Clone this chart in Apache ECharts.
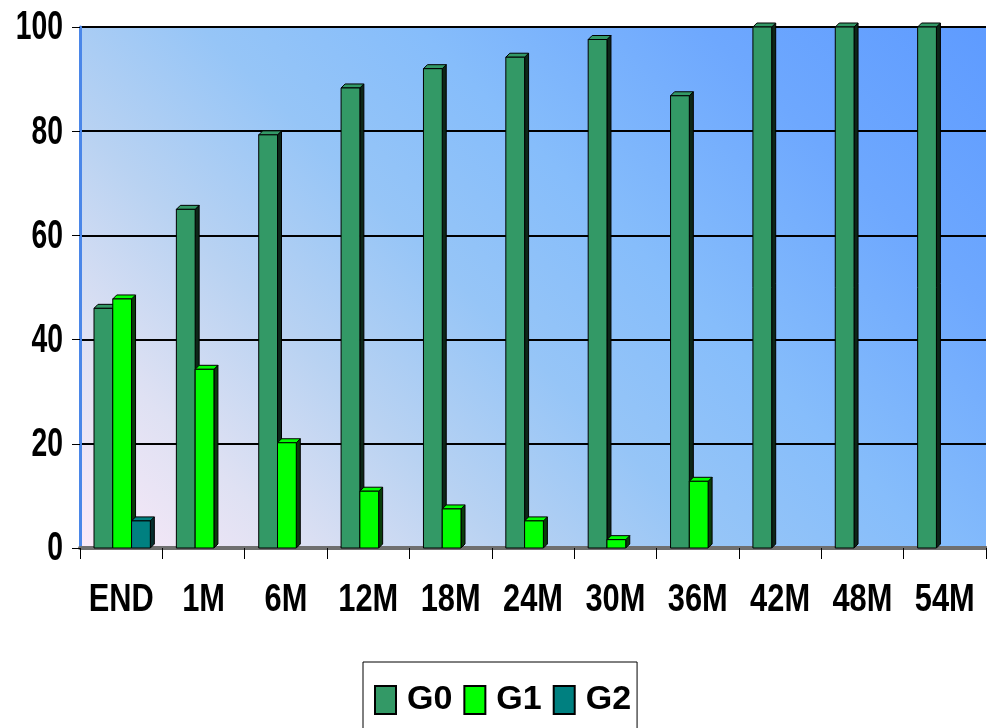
<!DOCTYPE html>
<html>
<head>
<meta charset="utf-8">
<script src="https://cdn.jsdelivr.net/npm/echarts@6/dist/echarts.min.js"></script>
<style>
  html, body { margin: 0; padding: 0; background: #ffffff; }
  #chart { width: 987px; height: 728px; }
</style>
</head>
<body>
<div id="chart"></div>
<script>
// Categories (time points) and group percentages
const categories = ['END', '1M', '6M', '12M', '18M', '24M', '30M', '36M', '42M', '48M', '54M'];
const g0Values = [46, 65, 79.3, 88.3, 92, 94.2, 97.6, 86.8, 100, 100, 100];
const g1Values = [47.8, 34.3, 20.2, 10.9, 7.5, 5.2, 1.6, 12.8, 0, 0, 0];
const g2Values = [5.2, 0, 0, 0, 0, 0, 0, 0, 0, 0, 0];
const yTicks = [0, 20, 40, 60, 80, 100];

const seriesNames = ['G0', 'G1', 'G2'];
const seriesColors = ['#339966', '#00ff00', '#008080'];
const sideColors = ['#0d2618', '#0a3d0a', '#062d2d'];
const valueSets = [g0Values, g1Values, g2Values];

const FONT = "'Liberation Sans', Arial, sans-serif";

// Draws one bar with a shallow extruded top and right side
function makeBarRenderer(k) {
  return function (params, api) {
    const idx = api.value(0);
    const val = api.value(1);
    if (!val) return null;
    const band = api.size([1, 0])[0];
    const center = api.coord([idx, 0])[0];
    const base = api.coord([idx, 0])[1];
    const top = api.coord([idx, val])[1];
    const barW = band * 0.228;
    const x0 = center - band / 2 + band * 0.17 + k * barW;
    const x1 = x0 + barW;
    const d = 4;
    const stroke = { stroke: '#000', lineWidth: 1 };
    return {
      type: 'group',
      children: [
        {
          type: 'polygon',
          shape: { points: [[x1, top], [x1 + d, top - d], [x1 + d, base - d], [x1, base]] },
          style: Object.assign({ fill: sideColors[k] }, stroke)
        },
        {
          type: 'polygon',
          shape: { points: [[x0, top], [x0 + d, top - d], [x1 + d, top - d], [x1, top]] },
          style: Object.assign({ fill: seriesColors[k] }, stroke)
        },
        {
          type: 'rect',
          shape: { x: x0, y: top, width: barW, height: base - top },
          style: Object.assign({ fill: seriesColors[k] }, stroke)
        }
      ]
    };
  };
}

// Condensed bold tick labels for the category axis
function renderCategoryLabel(params, api) {
  const idx = api.value(0);
  const p = api.coord([idx, 0]);
  return {
    type: 'text',
    x: p[0], y: p[1] + 52,
    scaleX: 0.79,
    style: {
      text: categories[idx],
      x: 0, y: 0,
      align: 'center', verticalAlign: 'middle',
      fontFamily: FONT, fontWeight: 'bold', fontSize: 39,
      fill: '#000'
    }
  };
}

// Condensed bold tick labels for the value axis
function renderValueLabel(params, api) {
  const v = api.value(1);
  const p = api.coord([0, v]);
  return {
    type: 'text',
    x: params.coordSys.x - 17, y: p[1] + 1,
    scaleX: 0.69,
    style: {
      text: String(v),
      x: 0, y: 0,
      align: 'right', verticalAlign: 'middle',
      fontFamily: FONT, fontWeight: 'bold', fontSize: 41,
      fill: '#000'
    }
  };
}

const chart = echarts.init(document.getElementById('chart'), null, { renderer: 'canvas' });
chart.setOption({
  animation: false,
  backgroundColor: '#ffffff',
  grid: {
    left: 80, right: 1, top: 27, bottom: 180,
    show: true,
    borderWidth: 0,
    backgroundColor: {
      type: 'linear', x: 0, y: 1, x2: 0.7875, y2: -0.37,
      colorStops: [
        { offset: 0, color: '#fbe9f8' },
        { offset: 0.15, color: '#dfe1f3' },
        { offset: 0.3, color: '#b8d2f2' },
        { offset: 0.45, color: '#96c5f7' },
        { offset: 0.6, color: '#86bdfb' },
        { offset: 0.8, color: '#6ea8fe' },
        { offset: 1, color: '#5e9bff' }
      ]
    }
  },
  legend: {
    left: 363, top: 662,
    padding: [21, 6, 30, 11],
    itemWidth: 21, itemHeight: 28, itemGap: 11,
    borderColor: '#000', borderWidth: 1,
    icon: 'rect',
    textStyle: { fontFamily: FONT, fontWeight: 'bold', fontSize: 34, color: '#000', padding: [0, 0, 0, 6] },
    data: seriesNames
  },
  xAxis: {
    type: 'category',
    data: categories,
    boundaryGap: true,
    axisLine: { show: true, lineStyle: { color: '#6f6f6f', width: 4 } },
    axisTick: { show: true, length: 11, lineStyle: { color: '#000', width: 1 } },
    axisLabel: { show: false },
    splitLine: { show: false }
  },
  yAxis: {
    type: 'value',
    min: yTicks[0], max: yTicks[yTicks.length - 1], interval: 20,
    axisLine: { show: true, lineStyle: { color: '#4a86e8', width: 3 } },
    axisTick: { show: true, length: 8, lineStyle: { color: '#000', width: 1 } },
    axisLabel: { show: false },
    splitLine: { show: true, lineStyle: { color: '#000', width: 2 } }
  },
  series: seriesNames.map((name, k) => ({
    name: name,
    type: 'custom',
    renderItem: makeBarRenderer(k),
    itemStyle: { color: seriesColors[k], borderColor: '#000', borderWidth: 1 },
    encode: { x: 0, y: 1 },
    data: valueSets[k].map((v, i) => [i, v])
  })).concat([
    {
      name: 'categoryLabels',
      type: 'custom',
      silent: true,
      clip: false,
      renderItem: renderCategoryLabel,
      encode: { x: 0, y: 1 },
      data: categories.map((c, i) => [i, 0])
    },
    {
      name: 'valueLabels',
      type: 'custom',
      silent: true,
      clip: false,
      renderItem: renderValueLabel,
      encode: { x: 0, y: 1 },
      data: yTicks.map(v => [0, v])
    }
  ])
});
</script>
</body>
</html>
